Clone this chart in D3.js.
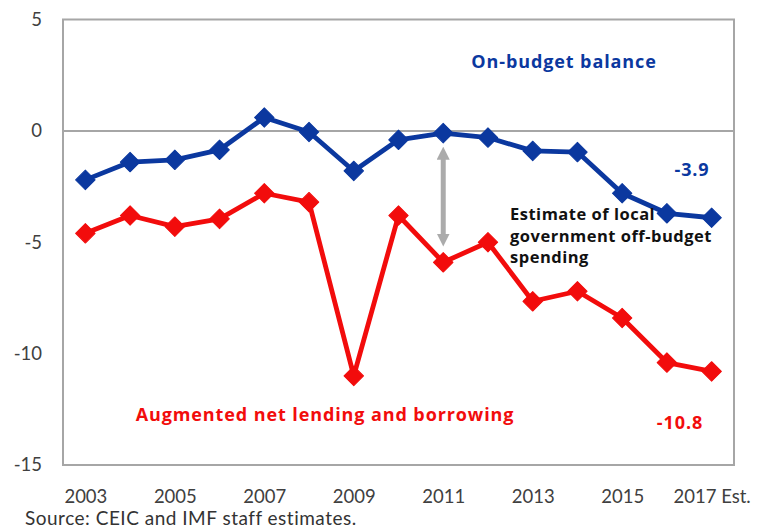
<!DOCTYPE html>
<html>
<head>
<meta charset="utf-8">
<script src="https://cdn.jsdelivr.net/npm/d3@7"></script>
<style>
  html, body { margin: 0; padding: 0; background: #fff; }
  svg { display: block; }
</style>
</head>
<body>
<svg id="chart" width="763" height="530"></svg>
<script>
// Fiscal balance, percent of GDP
const years = ["2003","2004","2005","2006","2007","2008","2009","2010","2011","2012","2013","2014","2015","2016","2017"];
const yearLabels = ["2003","","2005","","2007","","2009","","2011","","2013","","2015","","2017 Est."];
const onBudget = [-2.2, -1.4, -1.3, -0.85, 0.6, -0.05, -1.8, -0.4, -0.1, -0.3, -0.9, -0.95, -2.8, -3.7, -3.9];
const augmented = [-4.6, -3.8, -4.3, -3.95, -2.8, -3.2, -11.0, -3.8, -5.9, -5.0, -7.65, -7.2, -8.4, -10.4, -10.8];
const yTicks = [5, 0, -5, -10, -15];

const svg = d3.select("#chart");
const plotLeft = 63, plotRight = 734, plotTop = 19.5, plotBottom = 465;

const x = d3.scalePoint().domain(years).range([plotLeft, plotRight]).padding(0.5);
const y = d3.scaleLinear().domain([-15, 5]).range([plotBottom, plotTop]);

const tickFont = "Lato, 'Open Sans', sans-serif";
const boldFont = "'Open Sans', 'Noto Sans', sans-serif";
const blue = "#0b389f", red = "#f20c0c";

// plot frame
svg.append("rect")
  .attr("x", plotLeft).attr("y", plotTop)
  .attr("width", plotRight - plotLeft).attr("height", plotBottom - plotTop)
  .attr("fill", "none").attr("stroke", "#a6a6a6").attr("stroke-width", 2);

// zero line
svg.append("line")
  .attr("x1", plotLeft).attr("x2", plotRight)
  .attr("y1", y(0)).attr("y2", y(0))
  .attr("stroke", "#a6a6a6").attr("stroke-width", 2);

// y axis labels
const yAxis = d3.axisLeft(y).tickValues(yTicks).tickSize(0).tickPadding(21)
  .tickFormat(d => d);
svg.append("g").attr("transform", `translate(${plotLeft},0)`).call(yAxis)
  .call(g => g.select(".domain").remove())
  .call(g => g.selectAll("text")
    .attr("font-family", tickFont).attr("font-size", 18.5).attr("fill", "#404040"));

// x axis labels
const xAxis = d3.axisBottom(x).tickSize(0).tickPadding(25)
  .tickFormat((d, i) => yearLabels[i]);
svg.append("g").attr("transform", `translate(0,${plotBottom})`).call(xAxis)
  .call(g => g.select(".domain").remove())
  .call(g => g.selectAll("text")
    .attr("font-family", tickFont).attr("font-size", 18.5).attr("fill", "#404040"));

// gap arrow between the two series in 2011
const defs = svg.append("defs");
defs.append("marker")
  .attr("id", "head").attr("viewBox", "0 0 10 10")
  .attr("refX", 5).attr("refY", 5)
  .attr("markerWidth", 2.6).attr("markerHeight", 2.6)
  .attr("orient", "auto-start-reverse")
  .append("path").attr("d", "M0,0 L10,5 L0,10 Z").attr("fill", "#ababab");
const ax = x("2011");
svg.append("line")
  .attr("x1", ax).attr("x2", ax)
  .attr("y1", y(-1.0)).attr("y2", y(-4.9))
  .attr("stroke", "#ababab").attr("stroke-width", 5)
  .attr("marker-start", "url(#head)").attr("marker-end", "url(#head)");

// series
const series = [
  { values: augmented, color: red },
  { values: onBudget, color: blue }
];
const line = d3.line().x((d, i) => x(years[i])).y(d => y(d));

series.forEach(s => {
  svg.append("path")
    .attr("d", line(s.values))
    .attr("fill", "none").attr("stroke", s.color)
    .attr("stroke-width", 4.8).attr("stroke-linejoin", "round");
  svg.append("g").selectAll("path").data(s.values).join("path")
    .attr("transform", (d, i) => `translate(${x(years[i])},${y(d)}) rotate(45)`)
    .attr("d", d3.symbol().type(d3.symbolSquare).size(190))
    .attr("fill", s.color).attr("stroke", s.color)
    .attr("stroke-width", 1).attr("stroke-linejoin", "round");
});

// annotations
function label(txt, xPos, yPos, color, anchor) {
  return svg.append("text").attr("x", xPos).attr("y", yPos)
    .attr("text-anchor", anchor || "middle").attr("font-family", boldFont)
    .attr("font-weight", "bold").attr("font-size", 18)
    .attr("letter-spacing", 0.9).attr("fill", color)
    .text(txt);
}
label("On-budget balance", 564, 68, blue);
label("-3.9", 692, 176, blue);
label("Augmented net lending and borrowing", 325, 421, red);
label("-10.8", 680, 429, red);

const note = svg.append("text").attr("font-family", boldFont)
  .attr("font-weight", "bold").attr("font-size", 16.5)
  .attr("letter-spacing", 0.5).attr("fill", "#111");
["Estimate of local", "government off-budget", "spending"].forEach((t, i) => {
  note.append("tspan").attr("x", 510).attr("y", 220 + i * 21.5).text(t);
});

// source note
svg.append("text").attr("x", 25).attr("y", 525)
  .attr("font-family", tickFont).attr("font-size", 19)
  .attr("letter-spacing", 0.5).attr("fill", "#333")
  .text("Source: CEIC and IMF staff estimates.");
</script>
</body>
</html>
